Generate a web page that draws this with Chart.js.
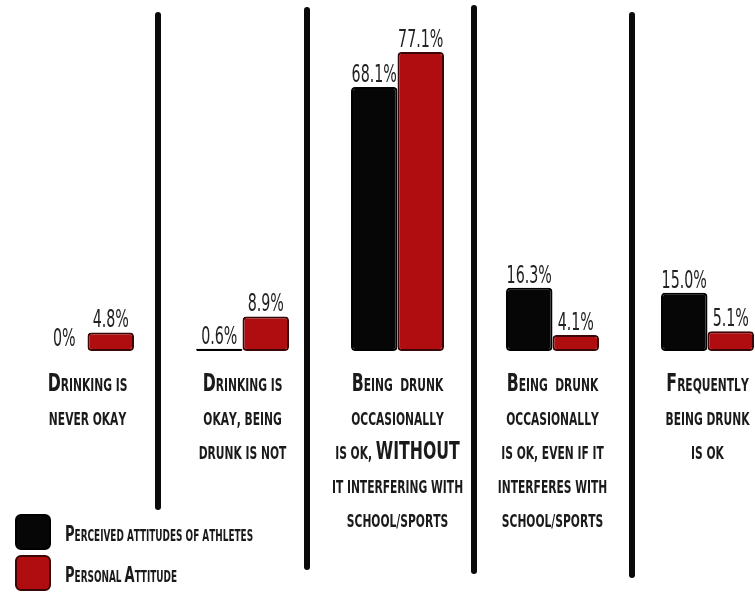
<!DOCTYPE html>
<html>
<head>
<meta charset="utf-8">
<title>Drinking attitudes</title>
<script src="https://cdn.jsdelivr.net/npm/chart.js@4.4.1/dist/chart.umd.min.js"></script>
<style>
  html, body { margin: 0; padding: 0; background: #fff; overflow: hidden; }
  #wrap { width: 785px; height: 592px; }
</style>
</head>
<body>
<div id="wrap"><canvas id="chart" width="785" height="592"></canvas></div>
<script>
// 数据
const categories = [
  ['Drinking is', 'never okay'],
  ['Drinking is', 'okay, being', 'drunk is not'],
  ['Being  drunk', 'occasionally', 'is ok, WITHOUT', 'it interfering with', 'school/sports'],
  ['Being  drunk', 'occasionally', 'is ok, even if it', 'interferes with', 'school/sports'],
  ['Frequently', 'being drunk', 'is ok']
];
const seriesNames = ['Perceived attitudes of athletes', 'Personal Attitude'];
const athletesValues = [0, 0.6, 68.1, 16.3, 15.0];
const personalValues = [4.8, 8.9, 77.1, 4.1, 5.1];

const FONT = '"Liberation Sans Narrow", "DejaVu Sans Condensed", sans-serif';

// 画小型大写字母文字 (大写字母用大号, 小写字母转大写用小号)
function drawCaps(ctx, text, x, y, big, small, squeeze, align, weight) {
  const parts = [];
  let total = 0;
  for (const ch of text) {
    const isUpper = ch !== ch.toLowerCase();
    const size = isUpper ? big : small;
    ctx.font = weight + ' ' + size + 'px ' + FONT;
    const c = ch.toUpperCase();
    const w = ctx.measureText(c).width;
    parts.push({ c, size, w });
    total += w;
  }
  ctx.save();
  ctx.translate(x, y);
  ctx.scale(squeeze, 1);
  let cx = align === 'left' ? 0 : -total / 2;
  ctx.textAlign = 'left';
  ctx.textBaseline = 'alphabetic';
  for (const p of parts) {
    ctx.font = weight + ' ' + p.size + 'px ' + FONT;
    ctx.fillText(p.c, cx, 0);
    cx += p.w;
  }
  ctx.restore();
}

const infographic = {
  id: 'infographic',
  afterDatasetsDraw(chart, args, opts) {
    const ctx = chart.ctx;
    const xs = chart.scales.x;
    const area = chart.chartArea;

    // 分隔线
    ctx.save();
    ctx.strokeStyle = '#0a0a0a';
    ctx.lineWidth = 6;
    ctx.lineCap = 'round';
    for (let i = 0; i < categories.length - 1; i++) {
      const mid = (xs.getPixelForValue(i) + xs.getPixelForValue(i + 1)) / 2 + opts.sepShift[i];
      ctx.beginPath();
      ctx.moveTo(mid, opts.sepTop[i]);
      ctx.lineTo(mid, opts.sepBottom[i]);
      ctx.stroke();
    }
    ctx.restore();

    // 数值标签
    ctx.save();
    ctx.fillStyle = '#222';
    chart.data.datasets.forEach((ds, di) => {
      chart.getDatasetMeta(di).data.forEach((bar, i) => {
        const v = ds.data[i];
        const txt = v === 0 ? '0%' : v.toFixed(1) + '%';
        ctx.save();
        ctx.translate(bar.x, bar.y - 5);
        ctx.scale(0.66, 1);
        ctx.font = 'normal 24px ' + FONT;
        ctx.textAlign = 'center';
        ctx.textBaseline = 'alphabetic';
        ctx.fillText(txt, 0, 0);
        ctx.restore();
      });
    });
    ctx.restore();

    // 类别标签
    ctx.save();
    ctx.fillStyle = '#1a1a1a';
    categories.forEach((lines, i) => {
      const x = xs.getPixelForValue(i);
      lines.forEach((line, li) => {
        drawCaps(ctx, line, x, area.bottom + 40 + li * 34, 25, 17, 0.7, 'center', 'bold');
      });
    });
    ctx.restore();

    // 图例
    ctx.save();
    chart.data.datasets.forEach((ds, di) => {
      const top = 515 + di * 41;
      ctx.fillStyle = ds.backgroundColor;
      ctx.strokeStyle = ds.borderColor;
      ctx.lineWidth = 2;
      ctx.beginPath();
      ctx.roundRect(16, top, 34, 34, 5);
      ctx.fill();
      ctx.stroke();
      ctx.fillStyle = '#1a1a1a';
      drawCaps(ctx, ds.label, 65, top + 26, 22, 15, 0.66, 'left', 'bold');
    });
    ctx.restore();
  }
};

new Chart(document.getElementById('chart'), {
  type: 'bar',
  data: {
    labels: categories,
    datasets: [{
      label: seriesNames[0],
      data: athletesValues,
      backgroundColor: '#060606',
      borderColor: '#000000',
      borderWidth: 2,
      borderSkipped: false,
      borderRadius: 4
    }, {
      label: seriesNames[1],
      data: personalValues,
      backgroundColor: '#b00d10',
      borderColor: '#3a0606',
      borderWidth: 2,
      borderSkipped: false,
      borderRadius: 4
    }]
  },
  options: {
    responsive: false,
    animation: false,
    devicePixelRatio: 1,
    categoryPercentage: 0.6,
    barPercentage: 1.0,
    layout: { padding: { left: 10, right: 0, top: 0, bottom: 241 } },
    scales: {
      x: { display: false, offset: true },
      y: { display: false, min: 0, max: 90.5 }
    },
    plugins: {
      legend: { display: false },
      tooltip: { enabled: false },
      infographic: {
        sepShift: [-7, -13, -1, 2],
        sepTop: [15, 10, 8, 15],
        sepBottom: [507, 567, 571, 575]
      }
    }
  },
  plugins: [infographic]
});
</script>
</body>
</html>
